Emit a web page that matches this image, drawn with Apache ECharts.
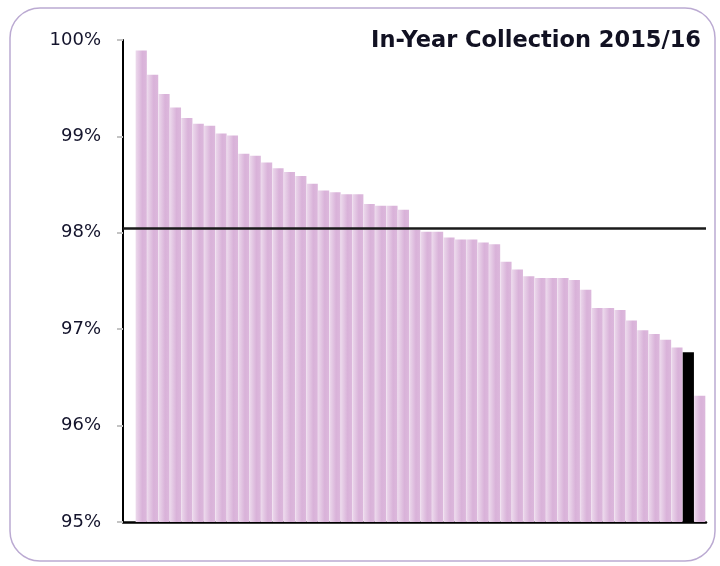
<!DOCTYPE html>
<html>
<head>
<meta charset="utf-8">
<title>In-Year Collection 2015/16</title>
<script src="https://cdn.jsdelivr.net/npm/echarts@6/dist/echarts.min.js"></script>
<style>
  html, body { margin: 0; padding: 0; background: #fff; }
  #myChart { width: 720px; height: 566px; }
</style>
</head>
<body>
<div id="myChart"></div>
<script>
// collection rate per authority, sorted high to low (%)
const rates = [
  99.89, 99.64, 99.44, 99.30, 99.19, 99.13, 99.11, 99.03, 99.01, 98.82,
  98.80, 98.73, 98.67, 98.63, 98.59, 98.51, 98.44, 98.42, 98.40, 98.40,
  98.30, 98.28, 98.28, 98.24, 98.03, 98.01, 98.01, 97.95, 97.93, 97.93,
  97.90, 97.88, 97.70, 97.62, 97.55, 97.53, 97.53, 97.53, 97.51, 97.41,
  97.22, 97.22, 97.20, 97.09, 96.99, 96.95, 96.89, 96.81, 96.76, 96.31
]
// position (0-based) of the highlighted authority
const highlight = 48
// average line
const average = 98.05
const yMin = 95
const yMax = 100
const yStep = 1

const myChart = echarts.init(document.getElementById('myChart'))

const barFill = new echarts.graphic.LinearGradient(0, 0, 1, 0, [
  { offset: 0, color: '#ecd9ec' },
  { offset: 0.6, color: '#d9b2d9' },
  { offset: 1, color: '#dcb8dc' }
])

const seriesData = rates.map((v, i) => {
  if (i === highlight) {
    return { value: [i, v], itemStyle: { color: '#000' } }
  }
  return [i, v]
})

const option = {
  animation: false,
  title: {
    text: 'In-Year Collection 2015/16',
    right: 14,
    top: 25,
    textStyle: {
      fontFamily: 'DejaVu Sans',
      fontWeight: 'bold',
      fontSize: 22.5,
      color: '#111122'
    }
  },
  // rounded frame round the chart
  graphic: [
    {
      type: 'rect',
      shape: { x: 10, y: 8, width: 705, height: 553, r: 30 },
      style: { fill: 'none', stroke: '#bbaad2', lineWidth: 1.5 },
      silent: true
    }
  ],
  grid: {
    left: 123,
    right: 14,
    top: 40,
    bottom: 44
  },
  xAxis: {
    type: 'value',
    min: -1.6,
    max: 49.55,
    axisLine: { show: true, onZero: false, lineStyle: { color: '#000', width: 2.5 } },
    axisTick: { show: false },
    axisLabel: { show: false },
    splitLine: { show: false }
  },
  yAxis: {
    type: 'value',
    min: yMin,
    max: yMax,
    interval: yStep,
    axisLine: { show: true, onZero: false, lineStyle: { color: '#000', width: 2 } },
    axisTick: { show: true, length: 6, lineStyle: { color: '#c4c4c4', width: 2 } },
    axisLabel: {
      formatter: '{value}%',
      margin: 22,
      fontFamily: 'DejaVu Sans',
      fontSize: 18,
      color: '#14142c'
    },
    splitLine: { show: false }
  },
  series: [
    {
      type: 'bar',
      data: seriesData,
      barWidth: 11.2,
      clip: true,
      itemStyle: { color: barFill },
      markLine: {
        silent: true,
        symbol: 'none',
        label: { show: false },
        lineStyle: { color: '#1a1a1a', width: 2.5, type: 'solid' },
        data: [{ yAxis: average }]
      }
    }
  ]
}

myChart.setOption(option)
window.addEventListener('resize', () => {
  myChart.resize()
})
</script>
</body>
</html>
